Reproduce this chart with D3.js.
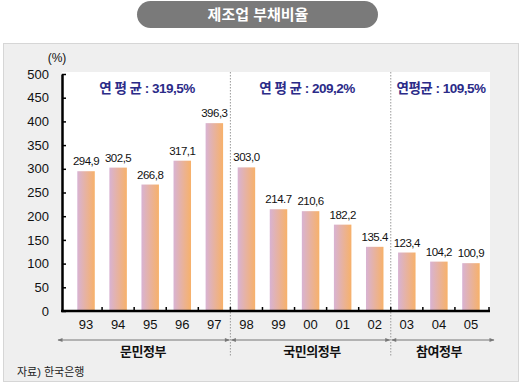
<!DOCTYPE html>
<html>
<head>
<meta charset="utf-8">
<script src="https://cdn.jsdelivr.net/npm/d3@7"></script>
<style>
  body { margin: 0; background: #fff; }
  svg { display: block; font-family: "Liberation Sans", Arial, "Noto Sans CJK KR", sans-serif; }
  .num { font-size: 11.5px; letter-spacing: -0.5px; fill: #111; }
  .tick text { font-size: 13px; fill: #111; }
</style>
</head>
<body>
<svg id="chart"></svg>
<script>
var years = ["93", "94", "95", "96", "97", "98", "99", "00", "01", "02", "03", "04", "05"];
var ratio = [294.9, 302.5, 266.8, 317.1, 396.3, 303.0, 214.7, 210.6, 182.2, 135.4, 123.4, 104.2, 100.9];
var ratioText = ["294,9", "302,5", "266,8", "317,1", "396,3", "303,0", "214.7", "210,6", "182,2", "135.4", "123,4", "104,2", "100,9"];
var yTicks = [0, 50, 100, 150, 200, 250, 300, 350, 400, 450, 500];
var govs = ["문민정부", "국민의정부", "참여정부"];
var govFirst = [0, 5, 10];   // first year index of each government
var govLast = [4, 9, 12];
var govAvg = ["연 평 균 : 319,5%", "연 평 균 : 209,2%", "연평균 : 109,5%"];
var title = "제조업 부채비율";
var source = "자료) 한국은행";

window.onload = function() {
	var W = 522, H = 384;
	var plot = {left: 62, right: 490, top: 72, bottom: 311};

	var svg = d3.select("#chart").attr("width", W).attr("height", H);

	// gradient for bars
	var defs = svg.append("defs");
	var grad = defs.append("linearGradient").attr("id", "barGrad")
		.attr("x1", "0%").attr("x2", "100%").attr("y1", "0%").attr("y2", "0%");
	grad.append("stop").attr("offset", "0%").attr("stop-color", "#d8b3d3");
	grad.append("stop").attr("offset", "100%").attr("stop-color", "#f7b16a");

	defs.append("marker").attr("id", "arr")
		.attr("viewBox", "0 0 10 10").attr("refX", 9).attr("refY", 5)
		.attr("markerWidth", 9).attr("markerHeight", 5).attr("markerUnits", "userSpaceOnUse")
		.attr("orient", "auto-start-reverse")
		.append("path").attr("d", "M0,1 L10,5 L0,9 Z").attr("fill", "#777");

	// title pill
	svg.append("rect").attr("x", 137).attr("y", 1).attr("width", 241).attr("height", 27)
		.attr("rx", 13.5).attr("fill", "#7a7a7a");
	svg.append("text").attr("x", 258).attr("y", 19.5).attr("text-anchor", "middle")
		.attr("fill", "#fff").style("font-size", "15px").style("font-weight", "bold")
		.text(title);

	// gray panel + white plot area
	svg.append("rect").attr("x", 3.5).attr("y", 43.5).attr("width", 515).attr("height", 338)
		.attr("fill", "#efefef").attr("stroke", "#d6d6d6");
	svg.append("rect").attr("x", plot.left).attr("y", plot.top)
		.attr("width", plot.right - plot.left).attr("height", plot.bottom - plot.top)
		.attr("fill", "#fff");

	var x = d3.scaleBand().domain(years).range([70, 487])
		.paddingInner(0.455).paddingOuter(0.2275);
	var y = d3.scaleLinear().domain([0, 500]).range([plot.bottom, 74]);
	var step = x.step();

	// separators between governments
	var sepX = govLast.slice(0, 2).map(function(i) { return x(years[i]) + x.bandwidth() + (step - x.bandwidth()) / 2; });
	svg.selectAll(".sep").data(sepX).enter().append("line")
		.attr("class", "sep")
		.attr("x1", function(d) { return d; }).attr("x2", function(d) { return d; })
		.attr("y1", plot.top).attr("y2", 357)
		.attr("stroke", "#999").attr("stroke-dasharray", "1.5,1.5");

	// bars
	svg.selectAll(".bar").data(ratio).enter().append("rect")
		.attr("class", "bar")
		.attr("x", function(d, i) { return x(years[i]); })
		.attr("y", function(d) { return y(d); })
		.attr("width", x.bandwidth())
		.attr("height", function(d) { return plot.bottom - y(d); })
		.attr("fill", "url(#barGrad)");

	svg.selectAll(".num").data(ratio).enter().append("text")
		.attr("class", "num")
		.attr("x", function(d, i) { return x(years[i]) + x.bandwidth() / 2; })
		.attr("y", function(d) { return y(d) - 6; })
		.attr("text-anchor", "middle")
		.text(function(d, i) { return ratioText[i]; });

	// y axis
	var yAxis = svg.append("g")
		.attr("transform", "translate(" + plot.left + ",0)")
		.call(d3.axisLeft(y).tickValues(yTicks).tickSizeInner(-4).tickSizeOuter(0).tickPadding(13));
	yAxis.select(".domain").attr("stroke", "#000").attr("stroke-width", 2.5);
	yAxis.selectAll(".tick line").attr("stroke", "#000").attr("stroke-width", 1.5);

	svg.append("text").attr("x", 57).attr("y", 62).attr("text-anchor", "middle")
		.style("font-size", "12px").attr("fill", "#111").text("(%)");

	// x axis
	var xAxis = svg.append("g")
		.attr("transform", "translate(0," + plot.bottom + ")")
		.call(d3.axisBottom(x).tickSize(0).tickPadding(9));
	xAxis.select(".domain").remove();
	svg.append("line").attr("x1", plot.left - 1).attr("x2", plot.right)
		.attr("y1", plot.bottom).attr("y2", plot.bottom)
		.attr("stroke", "#000").attr("stroke-width", 2.5);
	var tickX = years.slice(1).map(function(d) { return x(d) - (step - x.bandwidth()) / 2; });
	tickX.push(plot.right - 1);
	svg.selectAll(".xt").data(tickX).enter().append("line")
		.attr("class", "xt")
		.attr("x1", function(d) { return d; }).attr("x2", function(d) { return d; })
		.attr("y1", plot.bottom).attr("y2", plot.bottom - 4)
		.attr("stroke", "#000").attr("stroke-width", 1.5);

	// average labels
	var avgX = [147, 307, 441];
	svg.selectAll(".avg").data(govAvg).enter().append("text")
		.attr("class", "avg")
		.attr("x", function(d, i) { return avgX[i]; })
		.attr("y", 93)
		.attr("text-anchor", "middle")
		.attr("fill", "#2b2b88")
		.style("font-size", "13.5px").style("font-weight", "bold").style("letter-spacing", "-0.5px")
		.text(function(d) { return d; });

	// government span arrows
	var bounds = [58].concat(sepX).concat([494]);
	var segs = govs.map(function(g, i) {
		return {name: g, x1: bounds[i] + (i > 0 ? 1 : 0), x2: bounds[i + 1] - (i < govs.length - 1 ? 1 : 0)};
	});
	svg.selectAll(".span").data(segs).enter().append("line")
		.attr("class", "span")
		.attr("x1", function(d) { return d.x1; }).attr("x2", function(d) { return d.x2; })
		.attr("y1", 340).attr("y2", 340)
		.attr("stroke", "#777").attr("stroke-width", 1)
		.attr("marker-start", "url(#arr)").attr("marker-end", "url(#arr)");

	var govCx = [143, 312, 439];
	svg.selectAll(".gov").data(segs).enter().append("text")
		.attr("class", "gov")
		.attr("x", function(d, i) { return govCx[i]; })
		.attr("y", 356)
		.attr("text-anchor", "middle")
		.attr("fill", "#111")
		.style("font-size", "13px").style("font-weight", "bold").style("letter-spacing", "-0.5px")
		.text(function(d) { return d.name; });

	svg.append("text").attr("x", 17).attr("y", 376)
		.attr("fill", "#222").style("font-size", "11px")
		.text(source);
};
</script>
</body>
</html>
